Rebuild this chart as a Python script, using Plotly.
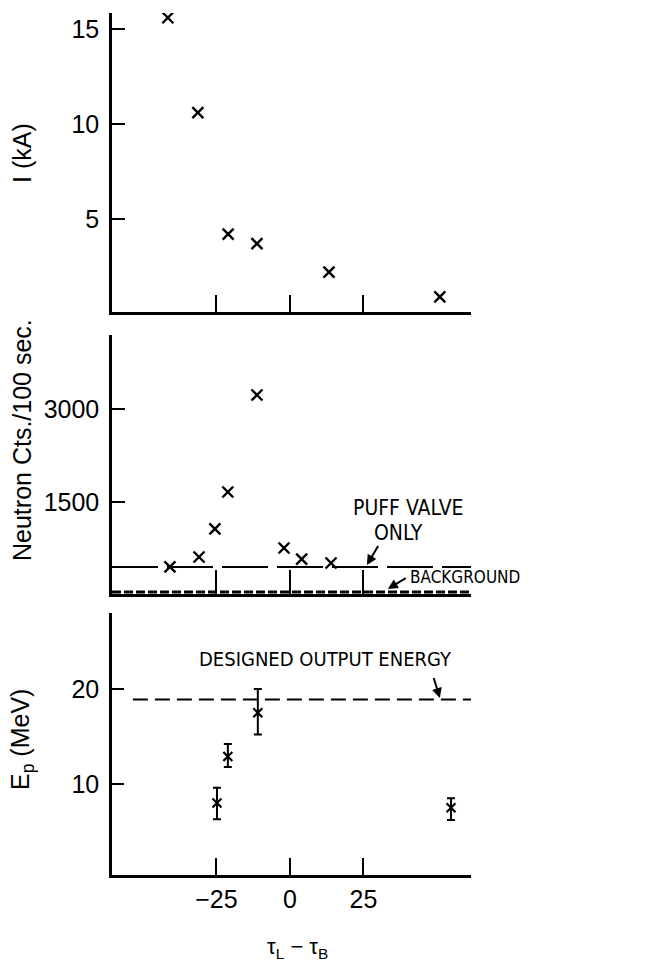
import plotly.graph_objects as go

# ---------------- data ----------------
current_delay = [-41.5, -31.3, -21.0, -11.2, 13.3, 51.0]
current_kA = [15.6, 10.6, 4.2, 3.7, 2.2, 0.9]

neutron_delay = [-40.8, -30.9, -25.5, -21.1, -11.2, -2.0, 4.0, 14.0]
neutron_counts = [452, 613, 1065, 1661, 3226, 758, 580, 516]
puff_valve_level = 452
background_level = 50

energy_delay = [-24.8, -21.1, -10.9, 54.8]
energy_MeV = [8.0, 12.9, 17.5, 7.5]
energy_err_plus = [1.6, 1.3, 2.5, 1.0]
energy_err_minus = [1.7, 1.1, 2.3, 1.3]
design_energy = 18.9

x_ticks = [-25, 0, 25]
current_ticks = [5, 10, 15]
neutron_ticks = [1500, 3000]
energy_ticks = [10, 20]

W, H = 671, 963
FONT = "Liberation Sans, DejaVu Sans, sans-serif"
NARROW = "Liberation Sans Narrow, DejaVu Sans Condensed, sans-serif"

def px(x):
    return x / W

def py(y):
    return 1 - y / H

xrange_ = [-60.5, 61.6]
xdom = [px(112), px(471)]

fig = go.Figure()

mk = dict(symbol="x-thin-open", size=11, color="black", line=dict(color="black", width=2.4))

fig.add_trace(go.Scatter(x=current_delay, y=current_kA, mode="markers", marker=mk,
                         xaxis="x", yaxis="y", showlegend=False))

fig.add_trace(go.Scatter(x=[xrange_[0], xrange_[1]], y=[puff_valve_level] * 2, mode="lines",
                         line=dict(color="black", width=2, dash="46px,9px"),
                         xaxis="x2", yaxis="y2", showlegend=False))
fig.add_trace(go.Scatter(x=[xrange_[0], xrange_[1]], y=[background_level] * 2, mode="lines",
                         line=dict(color="black", width=3, dash="9px,3px"),
                         xaxis="x2", yaxis="y2", showlegend=False))
fig.add_trace(go.Scatter(x=neutron_delay, y=neutron_counts, mode="markers", marker=mk,
                         xaxis="x2", yaxis="y2", showlegend=False))

fig.add_trace(go.Scatter(x=[-53.4, xrange_[1] + 1.5], y=[design_energy] * 2, mode="lines",
                         line=dict(color="black", width=2, dash="15px,7px"),
                         xaxis="x3", yaxis="y3", showlegend=False, cliponaxis=False))
fig.add_trace(go.Scatter(x=energy_delay, y=energy_MeV, mode="markers",
                         marker=dict(symbol="x-thin-open", size=9, color="black",
                                     line=dict(color="black", width=2.2)),
                         error_y=dict(type="data", symmetric=False, array=energy_err_plus,
                                      arrayminus=energy_err_minus, color="black",
                                      thickness=2, width=4),
                         xaxis="x3", yaxis="y3", showlegend=False))

axis_common = dict(showline=True, linecolor="black", linewidth=2.5, ticks="inside",
                   tickcolor="black", tickwidth=2, showgrid=False, zeroline=False,
                   tickfont=dict(family=FONT, size=25, color="black"))

fig.update_layout(
    width=W, height=H,
    margin=dict(l=0, r=0, t=0, b=0),
    paper_bgcolor="white", plot_bgcolor="white",
    hovermode=False,
    xaxis=dict(axis_common, domain=xdom, range=xrange_, anchor="y", tickvals=x_ticks,
               showticklabels=False, ticklen=17),
    yaxis=dict(axis_common, domain=[py(312), py(13)], range=[0.1, 15.85], anchor="x",
               tickvals=current_ticks, ticklen=13, ticklabelstandoff=5),
    xaxis2=dict(axis_common, domain=xdom, range=xrange_, anchor="y2", tickvals=x_ticks,
                showticklabels=False, ticklen=24),
    yaxis2=dict(axis_common, domain=[py(594), py(335)], range=[16, 4194], anchor="x2",
                tickvals=neutron_ticks, ticklen=13, ticklabelstandoff=5),
    xaxis3=dict(axis_common, domain=xdom, range=xrange_, anchor="y3", tickvals=x_ticks,
                ticklen=17),
    yaxis3=dict(axis_common, domain=[py(875), py(613)], range=[0.42, 28], anchor="x3",
                tickvals=energy_ticks, ticklen=12, ticklabelstandoff=5),
)

ann = []
def txt(text, x, y, size=24, angle=0, family=FONT, **kw):
    ann.append(dict(text=text, x=px(x), y=py(y), xref="paper", yref="paper", showarrow=False,
                    textangle=angle, font=dict(family=family, size=size, color="black"),
                    xanchor="center", yanchor="middle", **kw))

txt("I (kA)", 22, 153, size=25, angle=-90)
txt("Neutron Cts./100 sec.", 22, 440, size=25, angle=-90)
txt("E<sub>p</sub> (MeV)", 22, 740, size=25, angle=-90)
txt("τ<sub>L</sub> − τ<sub>B</sub>", 297, 948, size=22)
txt("PUFF VALVE", 408, 508, size=21, family=NARROW)
txt("ONLY", 398, 533, size=21, family=NARROW)
txt("BACKGROUND", 465, 577, size=17, family=NARROW)
txt("DESIGNED OUTPUT ENERGY", 325, 659, size=20, family=NARROW)

arrow = dict(showarrow=True, arrowhead=2, arrowsize=1, arrowwidth=2, arrowcolor="black",
             text=" ", axref="pixel", ayref="pixel", font=dict(size=2))
ann.append(dict(arrow, x=26.2, y=484, xref="x2", yref="y2", ax=13, ay=-22))
ann.append(dict(arrow, x=33.3, y=97, xref="x2", yref="y2", ax=20, ay=-12))
ann.append(dict(arrow, x=51.0, y=19.05, xref="x3", yref="y3", ax=-7, ay=-23))

fig.update_layout(annotations=ann)
fig.write_html("out.html", config={"displayModeBar": False},
               post_script="document.body.style.margin='0';document.body.style.padding='0';")
